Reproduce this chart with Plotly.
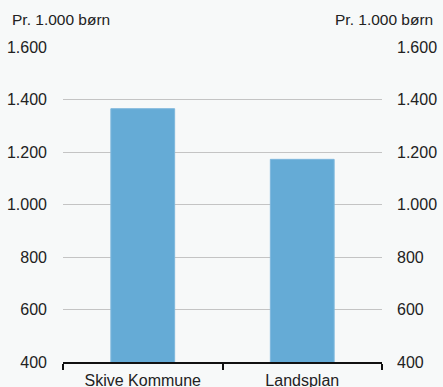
import plotly.graph_objects as go

categories = ["Skive Kommune", "Landsplan"]
values = [1365, 1172]
y_ticks = [400, 600, 800, 1000, 1200, 1400, 1600]
unit_label = "Pr. 1.000 børn"

font = dict(family="Liberation Sans, Arial, sans-serif", size=16, color="#222222")

fig = go.Figure()
fig.add_trace(go.Bar(
    x=categories, y=values,
    marker=dict(color="#65abd6", line=dict(color="#7fb8dd", width=1)),
    width=0.4,
    hoverinfo="x+y",
))
# invisible trace so the right axis gets drawn
fig.add_trace(go.Scatter(x=categories, y=values, yaxis="y2",
                         mode="markers", marker=dict(opacity=0),
                         showlegend=False, hoverinfo="skip"))

fig.update_layout(
    width=443, height=387,
    margin=dict(l=63, r=61, t=47, b=25),
    paper_bgcolor="#f7f9f9",
    plot_bgcolor="#f7f9f9",
    font=font,
    separators=",.",
    showlegend=False,
    bargap=0.6,
    xaxis=dict(
        automargin=False,
        showgrid=False,
        showline=True, linecolor="#111111", linewidth=2,
        ticks="outside", tickson="boundaries", ticklen=6,
        tickcolor="#111111", tickwidth=2,
        tickfont=dict(size=16),
        ticklabelstandoff=3,
    ),
    yaxis=dict(
        automargin=False,
        range=[400, 1600], tickvals=y_ticks, tickformat=",d",
        showgrid=True, gridcolor="#c4c4c4", gridwidth=1,
        zeroline=False, showline=False, ticks="",
        ticklabelstandoff=15,
    ),
    yaxis2=dict(
        automargin=False,
        range=[400, 1600], tickvals=y_ticks, tickformat=",d",
        overlaying="y", side="right", matches="y",
        showgrid=False, zeroline=False, showline=False, ticks="",
        ticklabelstandoff=14,
    ),
    annotations=[
        dict(text=unit_label, xref="paper", yref="paper", x=-0.166, y=1.088,
             xanchor="left", yanchor="middle", showarrow=False,
             font=dict(size=15.5)),
        dict(text=unit_label, xref="paper", yref="paper", x=1.166, y=1.088,
             xanchor="right", yanchor="middle", showarrow=False,
             font=dict(size=15.5)),
    ],
)

# drop the browser's default page margin so the chart sits at the corner
fig.write_html("out.html", config={"displayModeBar": False},
               post_script="document.body.style.margin='0';")
